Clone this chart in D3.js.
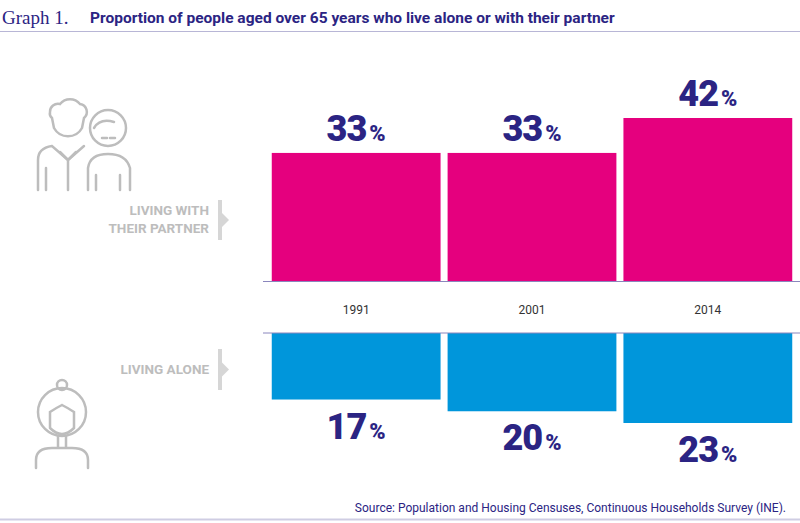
<!DOCTYPE html>
<html><head><meta charset="utf-8">
<script src="https://cdn.jsdelivr.net/npm/d3@7"></script>
<style>body{margin:0;background:#fff}</style></head>
<body><svg id="chart" width="800" height="523"></svg>
<script>
var years = ["1991", "2001", "2014"];
var withPartner = [33, 33, 42];
var alone = [17, 20, 23];

var svg = d3.select("#chart");
var navy = "#2b2483", pink = "#e5007e", blue = "#0096db", grey = "#bdbdbd";

// header
svg.append("text").attr("x", 2).attr("y", 24).attr("font-family", "Liberation Serif, serif")
  .attr("font-size", 19).attr("fill", navy).text("Graph 1.");
svg.append("text").attr("x", 90).attr("y", 23).attr("font-family", "Roboto, sans-serif")
  .attr("font-weight", "bold").attr("font-size", 15.5).attr("fill", navy)
  .text("Proportion of people aged over 65 years who live alone or with their partner");
svg.append("line").attr("x1", 0).attr("x2", 800).attr("y1", 31.5).attr("y2", 31.5).attr("stroke", "#b8b6d6");
svg.append("line").attr("x1", 0).attr("x2", 800).attr("y1", 519.5).attr("y2", 519.5).attr("stroke", "#cfcde3").attr("stroke-width", 2);

var x = d3.scaleBand().domain(years).range([270, 794]).paddingInner(0.04).paddingOuter(0.01);
var yTop = d3.scaleLinear().domain([0, 42]).range([281, 118]);
var yBot = d3.scaleLinear().domain([0, 23]).range([333, 423]);

svg.selectAll(".p").data(withPartner).join("rect")
  .attr("x", function(d, i) { return x(years[i]); }).attr("width", x.bandwidth())
  .attr("y", function(d) { return yTop(d); }).attr("height", function(d) { return yTop(0) - yTop(d); })
  .attr("fill", pink);
svg.selectAll(".a").data(alone).join("rect")
  .attr("x", function(d, i) { return x(years[i]); }).attr("width", x.bandwidth())
  .attr("y", yBot(0)).attr("height", function(d) { return yBot(d) - yBot(0); })
  .attr("fill", blue);

svg.append("line").attr("x1", 263).attr("x2", 800).attr("y1", 281.5).attr("y2", 281.5).attr("stroke", "#8a86bd");
svg.append("line").attr("x1", 263).attr("x2", 800).attr("y1", 333).attr("y2", 333).attr("stroke", "#8a86bd");

svg.selectAll(".yr").data(years).join("text")
  .attr("x", function(d) { return x(d) + x.bandwidth() / 2; }).attr("y", 314)
  .attr("text-anchor", "middle").attr("font-family", "Roboto, sans-serif").attr("font-size", 12)
  .attr("fill", "#333").text(function(d) { return d; });

function pct(sel, yFn) {
  var t = sel.join("text")
    .attr("x", function(d, i) { return x(years[i]) + x.bandwidth() / 2; })
    .attr("y", yFn).attr("text-anchor", "middle").attr("font-family", "Roboto, sans-serif")
    .attr("font-weight", 900).attr("fill", navy);
  t.append("tspan").attr("font-size", 36).attr("letter-spacing", -1).text(function(d) { return d; });
  t.append("tspan").attr("font-size", 22).attr("dx", 3).text("%");
}
pct(svg.selectAll(".tp").data(withPartner), function(d) { return yTop(d) - 12; });
pct(svg.selectAll(".ta").data(alone), function(d) { return yBot(d) + 39; });

// side labels
var lab = svg.append("g").attr("font-family", "Roboto, sans-serif").attr("font-weight", "bold")
  .attr("font-size", 13.5).attr("fill", grey).attr("text-anchor", "end");
lab.append("text").attr("x", 209).attr("y", 215).text("LIVING WITH");
lab.append("text").attr("x", 209).attr("y", 233).text("THEIR PARTNER");
lab.append("text").attr("x", 209).attr("y", 374).text("LIVING ALONE");
[[200, 240], [349, 390]].forEach(function(r) {
  svg.append("rect").attr("x", 218).attr("y", r[0]).attr("width", 4).attr("height", r[1] - r[0]).attr("fill", "#d6d6d6");
  var m = (r[0] + r[1]) / 2;
  svg.append("path").attr("d", "M222," + (m - 7) + "L229," + m + "L222," + (m + 7) + "Z").attr("fill", "#d6d6d6");
});

// icons
var ic = svg.append("g").attr("fill", "none").attr("stroke", grey).attr("stroke-width", 2.5).attr("stroke-linecap", "round");
// man
ic.append("path").attr("d", "M50,112 a8,8 0 0 1 10,-8 a13,13 0 0 1 20,0 a8,8 0 0 1 4,14 L82,128 a16,16 0 0 1 -28,0 L52,118 a6,6 0 0 1 -2,-6");
ic.append("path").attr("d", "M38,190 L38,160 Q38,148 52,146 L68,160 L84,146");
ic.append("path").attr("d", "M60,152 L68,160 L76,152 M68,160 L68,190 M46,190 L46,168");
// woman
ic.append("circle").attr("cx", 108).attr("cy", 128).attr("r", 18);
ic.append("path").attr("d", "M94,128 Q100,118 114,122 M102,138 l5,0 M110,138 l5,0");
ic.append("path").attr("d", "M88,190 L88,168 Q90,154 108,154 Q126,154 130,168 L130,190 M96,190 L96,175 M120,190 L120,175");
// woman alone
ic.append("circle").attr("cx", 62).attr("cy", 385).attr("r", 5);
ic.append("circle").attr("cx", 62).attr("cy", 412).attr("r", 24);
ic.append("path").attr("d", "M50,428 L50,412 Q56,408 62,405 Q68,408 74,412 L74,428 Q62,440 50,428 M58,437 L58,448 M66,437 L66,448 M36,468 L36,460 Q36,448 52,448 L72,448 Q88,448 88,460 L88,468");

svg.append("text").attr("x", 786).attr("y", 512).attr("text-anchor", "end")
  .attr("font-family", "Roboto, sans-serif").attr("font-size", 12).attr("fill", navy)
  .text("Source: Population and Housing Censuses, Continuous Households Survey (INE).");
</script></body></html>
